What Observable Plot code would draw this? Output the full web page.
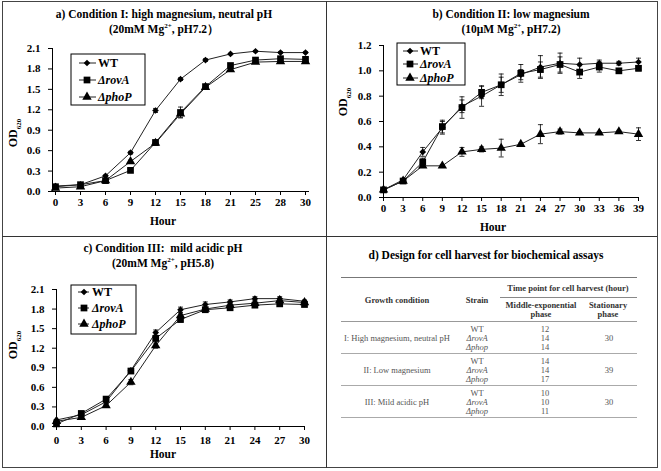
<!DOCTYPE html>
<html><head><meta charset="utf-8">
<script src="https://cdn.jsdelivr.net/npm/d3@7"></script>
<script src="https://cdn.jsdelivr.net/npm/@observablehq/plot@0.6"></script>
<style>
body{margin:0;background:#fff;}
#root{position:relative;width:661px;height:471px;overflow:hidden;font-family:'Liberation Serif','Times New Roman',serif;color:#000;background:#fff;}
.abs{position:absolute;white-space:nowrap;line-height:1;}
</style></head><body><div id="root"></div>
<script>
// ---------- data ----------
const strains = ["WT", "ΔrovA", "ΔphoP"];

// Panel a: Condition I (category x axis as in the original)
const hoursA = ["0","3","6","9","12","15","18","21","25","28","30"];
const wtA   = [0.08,0.10,0.23,0.57,1.19,1.65,1.93,2.02,2.06,2.04,2.04];
const rovA_A= [0.07,0.10,0.16,0.31,0.72,1.16,1.54,1.85,1.93,1.95,1.94];
const phoA  = [0.05,0.07,0.16,0.44,0.71,1.14,1.53,1.79,1.90,1.91,1.91];
const errWtA  = [0,0,0.01,0.02,0.03,0.02,0.02,0.01,0.01,0.01,0.01];
const errRovA = [0,0,0.01,0.02,0.03,0.08,0.03,0.02,0.02,0.01,0.01];
const errPhoA = [0,0,0.01,0.02,0.03,0.05,0.03,0.02,0.02,0.01,0.01];
const yTicksA = [0,0.3,0.6,0.9,1.2,1.5,1.8,2.1];

// Panel b: Condition II
const hoursB = [0,3,6,9,12,15,18,21,24,27,30,33,36,39];
const wtB  = [0.06,0.14,0.36,0.55,0.72,0.80,0.89,0.97,1.03,1.06,1.05,1.06,1.06,1.07];
const rovB = [0.06,0.13,0.28,0.56,0.71,0.83,0.89,0.98,1.01,1.05,0.99,1.03,1.00,1.02];
const phoB = [0.06,0.13,0.25,0.25,0.36,0.38,0.39,0.42,0.50,0.52,0.51,0.51,0.52,0.50];
const errWtB  = [0,0.01,0.035,0.05,0.05,0.08,0.06,0.04,0.09,0.08,0.05,0.025,0.015,0.03];
const errRovB = [0,0.01,0.03,0.05,0.085,0.05,0.085,0.07,0.06,0.06,0.05,0.04,0.015,0.02];
const errPhoB = [0,0.01,0.01,0.01,0.035,0.02,0.07,0.01,0.075,0.02,0.01,0.01,0.01,0.05];
const yTicksB = [0,0.2,0.4,0.6,0.8,1.0,1.2];

// Panel c: Condition III
const hoursC = [0,3,6,9,12,15,18,21,24,27,30];
const wtC  = [0.10,0.18,0.38,0.86,1.44,1.79,1.87,1.91,1.96,1.96,1.92];
const rovC = [0.04,0.20,0.42,0.85,1.35,1.64,1.79,1.82,1.86,1.88,1.87];
const phoC = [0.08,0.14,0.32,0.68,1.24,1.70,1.80,1.86,1.89,1.93,1.90];
const errWtC  = [0,0.02,0.02,0.03,0.04,0.04,0.04,0.03,0.03,0.03,0.02];
const errRovC = [0,0.02,0.02,0.03,0.04,0.04,0.03,0.03,0.03,0.03,0.02];
const errPhoC = [0,0.02,0.02,0.04,0.04,0.04,0.03,0.02,0.02,0.02,0.02];
const yTicksC = [0,0.3,0.6,0.9,1.2,1.5,1.8,2.1];

// Panel d: table
const conditions = ["I: High magnesium, neutral pH", "II: Low magnesium", "III: Mild acidic pH"];
const tableStrains = ["WT", "ΔrovA", "Δphop"];
const midExp = [[12,14,14],[14,14,17],[10,10,11]];
const stationary = [30,39,30];

// ---------- helpers ----------
const root = document.getElementById("root");
const SYM = {"WT":"diamond2","ΔrovA":"square","ΔphoP":"triangle"};
const SYMD3 = {"WT":d3.symbolDiamond2,"ΔrovA":d3.symbolSquare,"ΔphoP":d3.symbolTriangle};
const SR = {"WT":3.0,"ΔrovA":3.8,"ΔphoP":3.5};
const cap = {draw(ctx){ctx.moveTo(-2.5,0);ctx.lineTo(2.5,0);}};

function place(html, x, y, o = {}) {
  const d = document.createElement("div");
  d.className = "abs";
  d.innerHTML = html;
  d.style.left = x + "px"; d.style.top = y + "px";
  d.style.fontSize = (o.size || 11) + "px";
  d.style.fontWeight = o.bold ? "bold" : "normal";
  if (o.italic) d.style.fontStyle = "italic";
  d.style.color = o.color || "#000";
  const ax = o.anchor === "start" ? "0" : o.anchor === "end" ? "-100%" : "-50%";
  d.style.transform = `translate(${ax},-50%)` + (o.rotate ? ` rotate(${o.rotate}deg)` : "");
  root.appendChild(d);
  return d;
}
function hline(x1, x2, y, color, w) {
  const d = document.createElement("div");
  d.style.cssText = `position:absolute;left:${x1}px;top:${y}px;width:${x2-x1}px;height:0;border-top:${w}px solid ${color};`;
  root.appendChild(d);
}
function vline(x, y1, y2, color, w) {
  const d = document.createElement("div");
  d.style.cssText = `position:absolute;left:${x}px;top:${y1}px;width:0;height:${y2-y1}px;border-left:${w}px solid ${color};`;
  root.appendChild(d);
}

function panel(cfg) {
  const rows = [];
  strains.forEach((s, i) => cfg.hours.forEach((h, j) =>
    rows.push({strain: s, hour: h, od: cfg.series[i][j], err: cfg.errs[i][j]})));
  const eb = rows.filter(d => d.err > 0);
  const svg = Plot.plot({
    width: cfg.width, height: cfg.height,
    marginLeft: cfg.m[0], marginRight: cfg.m[1], marginTop: cfg.m[2], marginBottom: cfg.m[3],
    x: cfg.x,
    y: {domain: [0, cfg.yTicks[cfg.yTicks.length-1]], ticks: cfg.yTicks, tickFormat: d => d.toFixed(1),
        label: null, tickSize: 4, tickPadding: 8, line: true},
    style: {fontFamily: "'Liberation Serif','Times New Roman',serif", fontSize: "11px",
            fontWeight: "bold", color: "#000", background: "transparent", overflow: "visible"},
    marks: [
      Plot.ruleX(eb, {x: "hour", y1: d => d.od - d.err, y2: d => d.od + d.err, stroke: "#000", strokeWidth: 0.8}),
      Plot.dot(eb, {x: "hour", y: d => d.od + d.err, symbol: cap, r: 2, stroke: "#000", strokeWidth: 0.8}),
      Plot.dot(eb, {x: "hour", y: d => d.od - d.err, symbol: cap, r: 2, stroke: "#000", strokeWidth: 0.8}),
      Plot.line(rows, {x: "hour", y: "od", z: "strain", stroke: "#222", strokeWidth: 1}),
      ...strains.map(s => Plot.dot(rows.filter(d => d.strain === s),
        {x: "hour", y: "od", symbol: SYM[s], r: SR[s], fill: "#000", stroke: "none"}))
    ]
  });
  svg.style.position = "absolute";
  svg.style.left = cfg.left + "px";
  svg.style.top = cfg.top + "px";
  root.appendChild(svg);
}

function legend(x, y, w, h, rowY, sx1, sx2, mx, tx, fs) {
  const svg = d3.create("svg").attr("width", w + 2).attr("height", h + 2)
    .style("position", "absolute").style("left", (x - 1) + "px").style("top", (y - 1) + "px")
    .style("overflow", "visible");
  svg.append("rect").attr("x", 1).attr("y", 1).attr("width", w).attr("height", h)
    .attr("fill", "#fff").attr("stroke", "#000").attr("stroke-width", 1);
  strains.forEach((s, i) => {
    const yy = rowY[i] - y + 1;
    svg.append("line").attr("x1", sx1).attr("x2", sx2).attr("y1", yy).attr("y2", yy)
      .attr("stroke", "#222").attr("stroke-width", 1);
    svg.append("path").attr("d", d3.symbol(SYMD3[s], Math.PI * SR[s] * SR[s])())
      .attr("transform", `translate(${mx},${yy})`).attr("fill", "#000");
    svg.append("text").attr("x", tx).attr("y", yy).attr("dy", "0.35em")
      .attr("font-family", "'Liberation Serif','Times New Roman',serif")
      .attr("font-size", fs).attr("font-weight", "bold")
      .attr("font-style", i === 0 ? "normal" : "italic").text(s);
  });
  root.appendChild(svg.node());
}

// ---------- frame ----------
const frame = document.createElement("div");
frame.style.cssText = "position:absolute;left:2px;top:1px;width:654px;height:465px;border:1.5px solid #444;";
root.appendChild(frame);
vline(326, 1, 468, "#333", 1.5);
hline(2, 657, 236, "#333", 1.5);

// ---------- panel a ----------
panel({hours: hoursA, series: [wtA, rovA_A, phoA], errs: [errWtA, errRovA, errPhoA], yTicks: yTicksA,
  x: {type: "point", domain: hoursA, padding: 0, label: null, tickSize: 4, tickPadding: 3, line: true},
  left: 0, top: 0, width: 326, height: 236, m: [52, 18, 48, 45]});
place("a) Condition I: high magnesium, neutral pH", 164, 15, {bold: true, size: 11.5});
place("(20mM Mg<sup style='font-size:7px'>2+</sup>, pH7.2）", 164, 29, {bold: true, size: 11.5});
place("OD<sub style='font-size:7px'>620</sub>", 15, 133, {bold: true, size: 12, rotate: -90});
place("Hour", 163, 222, {bold: true, size: 11.5});
legend(71, 54, 74, 51, [63, 80, 97], 9, 26, 17, 28, 12);

// ---------- panel b ----------
panel({hours: hoursB, series: [wtB, rovB, phoB], errs: [errWtB, errRovB, errPhoB], yTicks: yTicksB,
  x: {domain: [0, 39], ticks: hoursB, label: null, tickSize: 4, tickPadding: 3, line: true},
  left: 330, top: 0, width: 327, height: 236, m: [53, 19, 45, 39]});
place("b) Condition II: low magnesium", 511, 15, {bold: true, size: 11.5});
place("(10μM Mg<sup style='font-size:7px'>2+</sup>, pH7.2)", 511, 29, {bold: true, size: 11.5});
place("OD<sub style='font-size:7px'>620</sub>", 345, 102, {bold: true, size: 12, rotate: -90});
place("Hour", 493, 228, {bold: true, size: 11.5});
legend(397, 43, 68, 42, [51, 64, 78], 7, 22, 14, 24, 12);

// ---------- panel c ----------
panel({hours: hoursC, series: [wtC, rovC, phoC], errs: [errWtC, errRovC, errPhoC], yTicks: yTicksC,
  x: {domain: [0, 30], ticks: hoursC, label: null, tickSize: 4, tickPadding: 6, line: true},
  left: 0, top: 236, width: 326, height: 232, m: [56, 22, 53, 42]});
place("c) Condition III:&nbsp; mild acidic pH", 163, 249, {bold: true, size: 11.5});
place("(20mM Mg<sup style='font-size:7px'>2+</sup>, pH5.8)", 163, 263, {bold: true, size: 11.5});
place("OD<sub style='font-size:7px'>620</sub>", 15, 345, {bold: true, size: 12, rotate: -90});
place("Hour", 163, 455, {bold: true, size: 11.5});
legend(71, 285, 65, 49, [292, 308, 324], 8, 19, 14, 22, 12);

// ---------- panel d (table) ----------
place("d) Design for cell harvest for biochemical assays", 486, 256, {bold: true, size: 11.5});
const hc = "#333", bc = "#555", fs = 8.5;
hline(341, 637, 277, "#777", 1.2);
hline(500, 637, 297, "#888", 1);
hline(341, 637, 321, "#999", 1);
place("Time point for cell harvest (hour)", 568, 288, {bold: true, size: fs, color: hc});
place("Growth condition", 397, 300, {bold: true, size: fs, color: hc});
place("Strain", 477, 300, {bold: true, size: fs, color: hc});
place("Middle-exponential", 541, 305, {bold: true, size: fs, color: hc});
place("phase", 541, 314, {bold: true, size: fs, color: hc});
place("Stationary", 608, 305, {bold: true, size: fs, color: hc});
place("phase", 608, 314, {bold: true, size: fs, color: hc});
conditions.forEach((c, g) => {
  const y0 = 329 + g * 32;
  tableStrains.forEach((s, r) => {
    place(s, 477, y0 + r * 9, {size: fs, color: bc, italic: r > 0});
    place(String(midExp[g][r]), 545, y0 + r * 9, {size: fs, color: bc});
  });
  place(c, 397, y0 + 9, {size: fs, color: bc});
  place(String(stationary[g]), 609, y0 + 9, {size: fs, color: bc});
  hline(341, 637, 353 + g * 32, "#aaa", 1);
});
</script></body></html>
